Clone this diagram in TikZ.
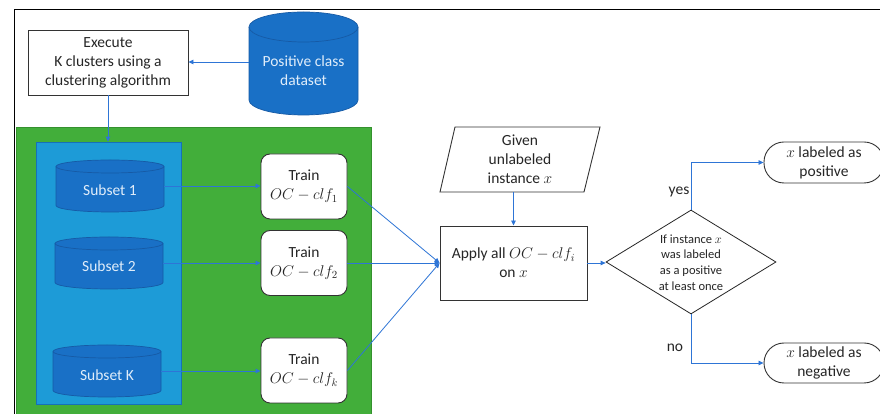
\documentclass[tikz,border=0pt]{standalone}
\usepackage{fix-cm}
\usepackage{fontspec}
\setmainfont{Carlito}
\usetikzlibrary{shapes.geometric,arrows.meta}
\definecolor{cylblue}{RGB}{25,112,198}
\definecolor{cylborder}{RGB}{22,90,165}
\definecolor{panelblue}{RGB}{29,155,215}
\definecolor{panelborder}{RGB}{22,112,185}
\definecolor{panelgreen}{RGB}{66,174,58}
\definecolor{greenborder}{RGB}{52,145,46}
\definecolor{arrowblue}{RGB}{46,117,214}
\definecolor{cyltextc}{RGB}{224,237,250}
\newcommand\dbshape[5]{%
  \pgfmathsetmacro\rxv{(#2-#1)/2}%
  \filldraw[fill=cylblue,draw=cylborder,line width=0.7pt]
    (#1,#3-#5) -- (#1,#4+#5)
    arc[start angle=180,end angle=360,x radius=\rxv pt,y radius=#5 pt]
    -- (#2,#3-#5)
    arc[start angle=0,end angle=180,x radius=\rxv pt,y radius=#5 pt] -- cycle;
  \draw[cylborder,line width=0.7pt] (#1,#3-#5)
    arc[start angle=180,end angle=360,x radius=\rxv pt,y radius=#5 pt];
}
\tikzset{
  txt/.style={font=\fontsize{15.5}{19}\selectfont, align=center, text=black!85},
  smalltxt/.style={font=\fontsize{12.5}{15.6}\selectfont, align=center, text=black!85},
  cyltxt/.style={font=\fontsize{15.5}{19}\selectfont, align=center, text=cyltextc},
  anchorbox/.style={inner sep=0pt, draw=none},
  plainbox/.style={txt, draw=black!80, line width=0.9pt, fill=white, inner sep=0pt},
  trainbox/.style={plainbox, rounded corners=9pt, minimum width=86pt, minimum height=65pt},
  termbox/.style={plainbox, rounded corners=20pt, minimum width=120pt},
  arr/.style={draw=arrowblue, line width=0.8pt, -{Triangle[length=5pt,width=4.5pt]}},
}
\begin{document}
\begin{tikzpicture}[x=1pt,y=1pt]
\useasboundingbox (0,0) rectangle (880,414);
\fill[white] (0,0) rectangle (880,414);

% green panel and blue panel
\filldraw[fill=panelgreen, draw=greenborder, line width=0.7pt] (16,-3) rectangle (371,287);
\node[anchorbox, draw=panelborder, fill=panelblue, line width=0.7pt,
      minimum width=145pt, minimum height=262pt] (panel) at (108.5,141) {};

% frame
\draw[line width=1.6pt, black] (14.5,0) -- (14.5,404.5) -- (882,404.5);

% execute box
\node[plainbox, minimum width=160pt, minimum height=65pt] (exec) at (108,351.5)
  {Execute\\K clusters using a\\clustering algorithm};

% positive class dataset
\dbshape{249}{358}{402}{299}{15}
\node[anchorbox, minimum width=109pt, minimum height=60pt] (pcd) at (303.5,352) {};
\node[cyltxt] (pcdtext) at (303.5,343) {Positive class\\dataset};
\draw[arr] (pcd.west) -- (pcd.west -| exec.east);
\draw[arr] (exec.south) -- (exec.south |- panel.north);

% subsets
\dbshape{56}{164}{254}{202}{6.5}
\node[anchorbox, minimum width=108pt, minimum height=38pt] (s1) at (110,228) {};
\node[cyltxt] (s1text) at (110,224) {Subset 1};
\dbshape{55}{163}{177}{125}{6.5}
\node[anchorbox, minimum width=108pt, minimum height=38pt] (s2) at (109,151) {};
\node[cyltxt] (s2text) at (109,147.5) {Subset 2};
\dbshape{53}{161}{69}{17}{6.5}
\node[anchorbox, minimum width=108pt, minimum height=38pt] (sk) at (107,43) {};
\node[cyltxt] (sktext) at (107,38.5) {Subset K};

% train boxes
\node[trainbox] (t1) at (304,227.5) {Train\\$OC-clf_1$};
\node[trainbox] (t2) at (304,151) {Train\\$OC-clf_2$};
\node[trainbox] (tk) at (304,43.5) {Train\\$OC-clf_k$};

\draw[arr] (s1.east) -- (s1.east -| t1.west);
\draw[arr] (s2.east) -- (s2.east -| t2.west);
\draw[arr] (sk.east) -- (sk.east -| tk.west);

% apply box
\node[plainbox, minimum width=147pt, minimum height=74pt] (apply) at (513.5,151)
  {Apply all $OC-clf_i$\\on $x$};
\draw[arr] (t1.east) -- (apply.west);
\draw[arr] (t2.east) -- (apply.west);
\draw[arr] (tk.east) -- (apply.west);

% given (parallelogram)
\draw[black!80, line width=0.9pt] (455,287) -- (600,287) -- (584,222) -- (440,222) -- cycle;
\node[anchorbox, txt, minimum width=145pt, minimum height=65pt] (given) at (520,254.5)
  {Given\\unlabeled\\instance $x$};
\draw[arr] (apply.north |- given.south) -- (apply.north);

% decision
\node[diamond, draw=black!85, line width=0.8pt, minimum width=170pt, minimum height=104pt,
      inner sep=0pt] (dec) at (691,152) {};
\node[smalltxt] (dectext) at (691,151.5)
  {If instance $x$\\was labeled\\as a positive\\at least once};
\draw[arr] (apply.east) -- (apply.east -| dec.west);

% terminals
\node[termbox, minimum height=41pt] (pos) at (824,251.5) {$x$ labeled as\\positive};
\node[termbox, minimum height=40pt] (neg) at (824,51) {$x$ labeled as\\negative};
\draw[arr] (dec.north) |- (pos.west);
\draw[arr] (dec.south) |- (neg.west);
\node[txt] (yes) at (679,222) {yes};
\node[txt] (no) at (675,66) {no};
\end{tikzpicture}
\end{document}
